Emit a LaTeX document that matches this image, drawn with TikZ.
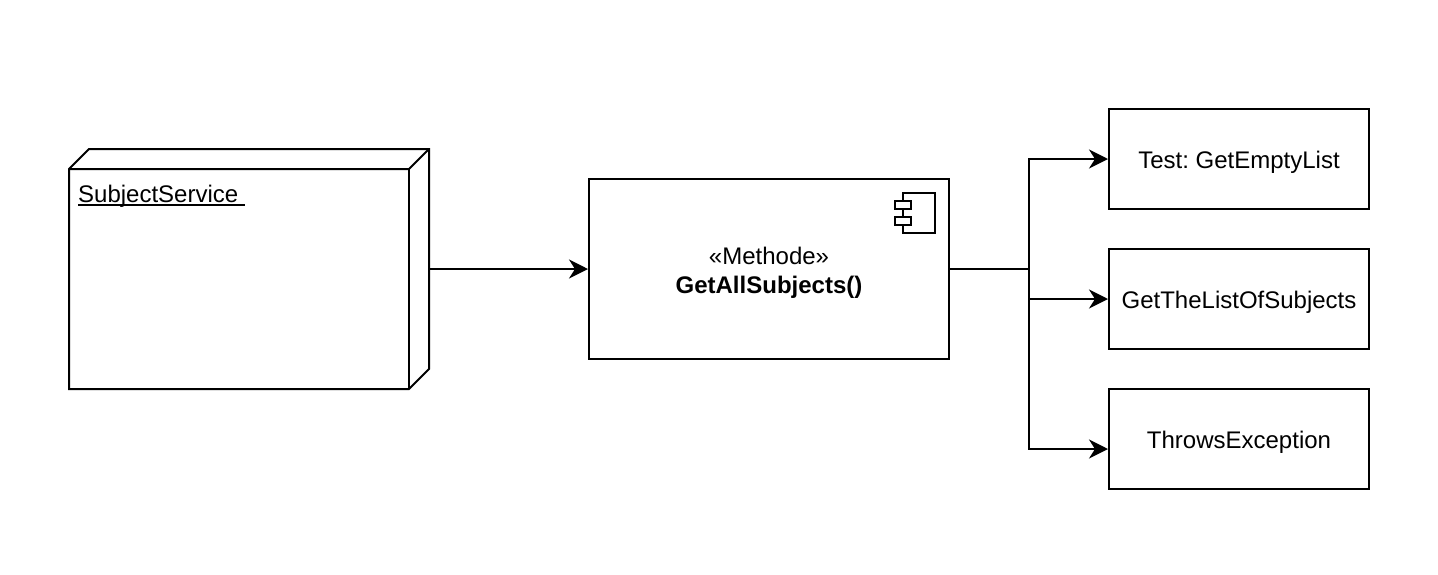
\documentclass[tikz,border=0pt]{standalone}
\usepackage{fontspec}
\setmainfont{Liberation Sans}
\usetikzlibrary{arrows.meta}
\tikzset{
  x=1pt,y=-1pt,
  box/.style={draw=black,line width=2pt,fill=white,inner sep=0pt},
  flow/.style={draw=black,line width=2pt,-{Stealth[length=19pt,width=19pt,inset=6pt]}},
  plain/.style={draw=black,line width=2pt,line join=miter},
  lbl/.style={inner sep=0pt,align=center,font=\frenchspacing\fontsize{24}{29}\selectfont}
}
\begin{document}
\begin{tikzpicture}
\useasboundingbox (0,0) rectangle (1438,574);
% deployment node (bounds used for connector)
\node[inner sep=0pt,minimum width=360pt,minimum height=240pt] (svc) at (249,269) {};
\draw[plain] (69,169) -- (89,149) -- (429,149) -- (429,369) -- (409,389) -- (69,389) -- cycle;
\draw[plain] (69,169) -- (409,169) -- (429,149);
\draw[plain] (409,169) -- (409,389);
\node[lbl,anchor=base west] (svclabel) at (78,202) {\rlap{\rule[-3.6pt]{167pt}{2pt}}SubjectService};
% component
\node[box,minimum width=360pt,minimum height=180pt] (comp) at (769,269) {};
\node[lbl] (comptext) at ([yshift=-3.5pt]comp.center) {«Methode»\\\textbf{GetAllSubjects()}};
\draw[plain] (903,193) rectangle (935,233);
\draw[plain,fill=white] (895,201) rectangle (911,209);
\draw[plain,fill=white] (895,217) rectangle (911,225);
% targets
\node[box,minimum width=260pt,minimum height=100pt] (t1) at (1239,159) {};
\node[box,minimum width=260pt,minimum height=100pt] (t2) at (1239,299) {};
\node[box,minimum width=260pt,minimum height=100pt] (t3) at (1239,439) {};
\node[lbl] (t1text) at ([yshift=-3pt]t1.center) {Test: GetEmptyList};
\node[lbl] (t2text) at ([yshift=-3pt]t2.center) {GetTheListOfSubjects};
\node[lbl] (t3text) at ([yshift=-3pt]t3.center) {ThrowsException};
\coordinate (junction) at (1029,269);
\coordinate (t3in) at ([yshift=-10pt]t3.west);
\draw[flow] (svc.east) -- (comp.west);
\draw[flow] (comp.east) -- (junction) |- (t1.west);
\draw[flow] (comp.east) -- (junction) |- (t2.west);
\draw[flow] (comp.east) -- (junction) |- (t3in);
\end{tikzpicture}
\end{document}
